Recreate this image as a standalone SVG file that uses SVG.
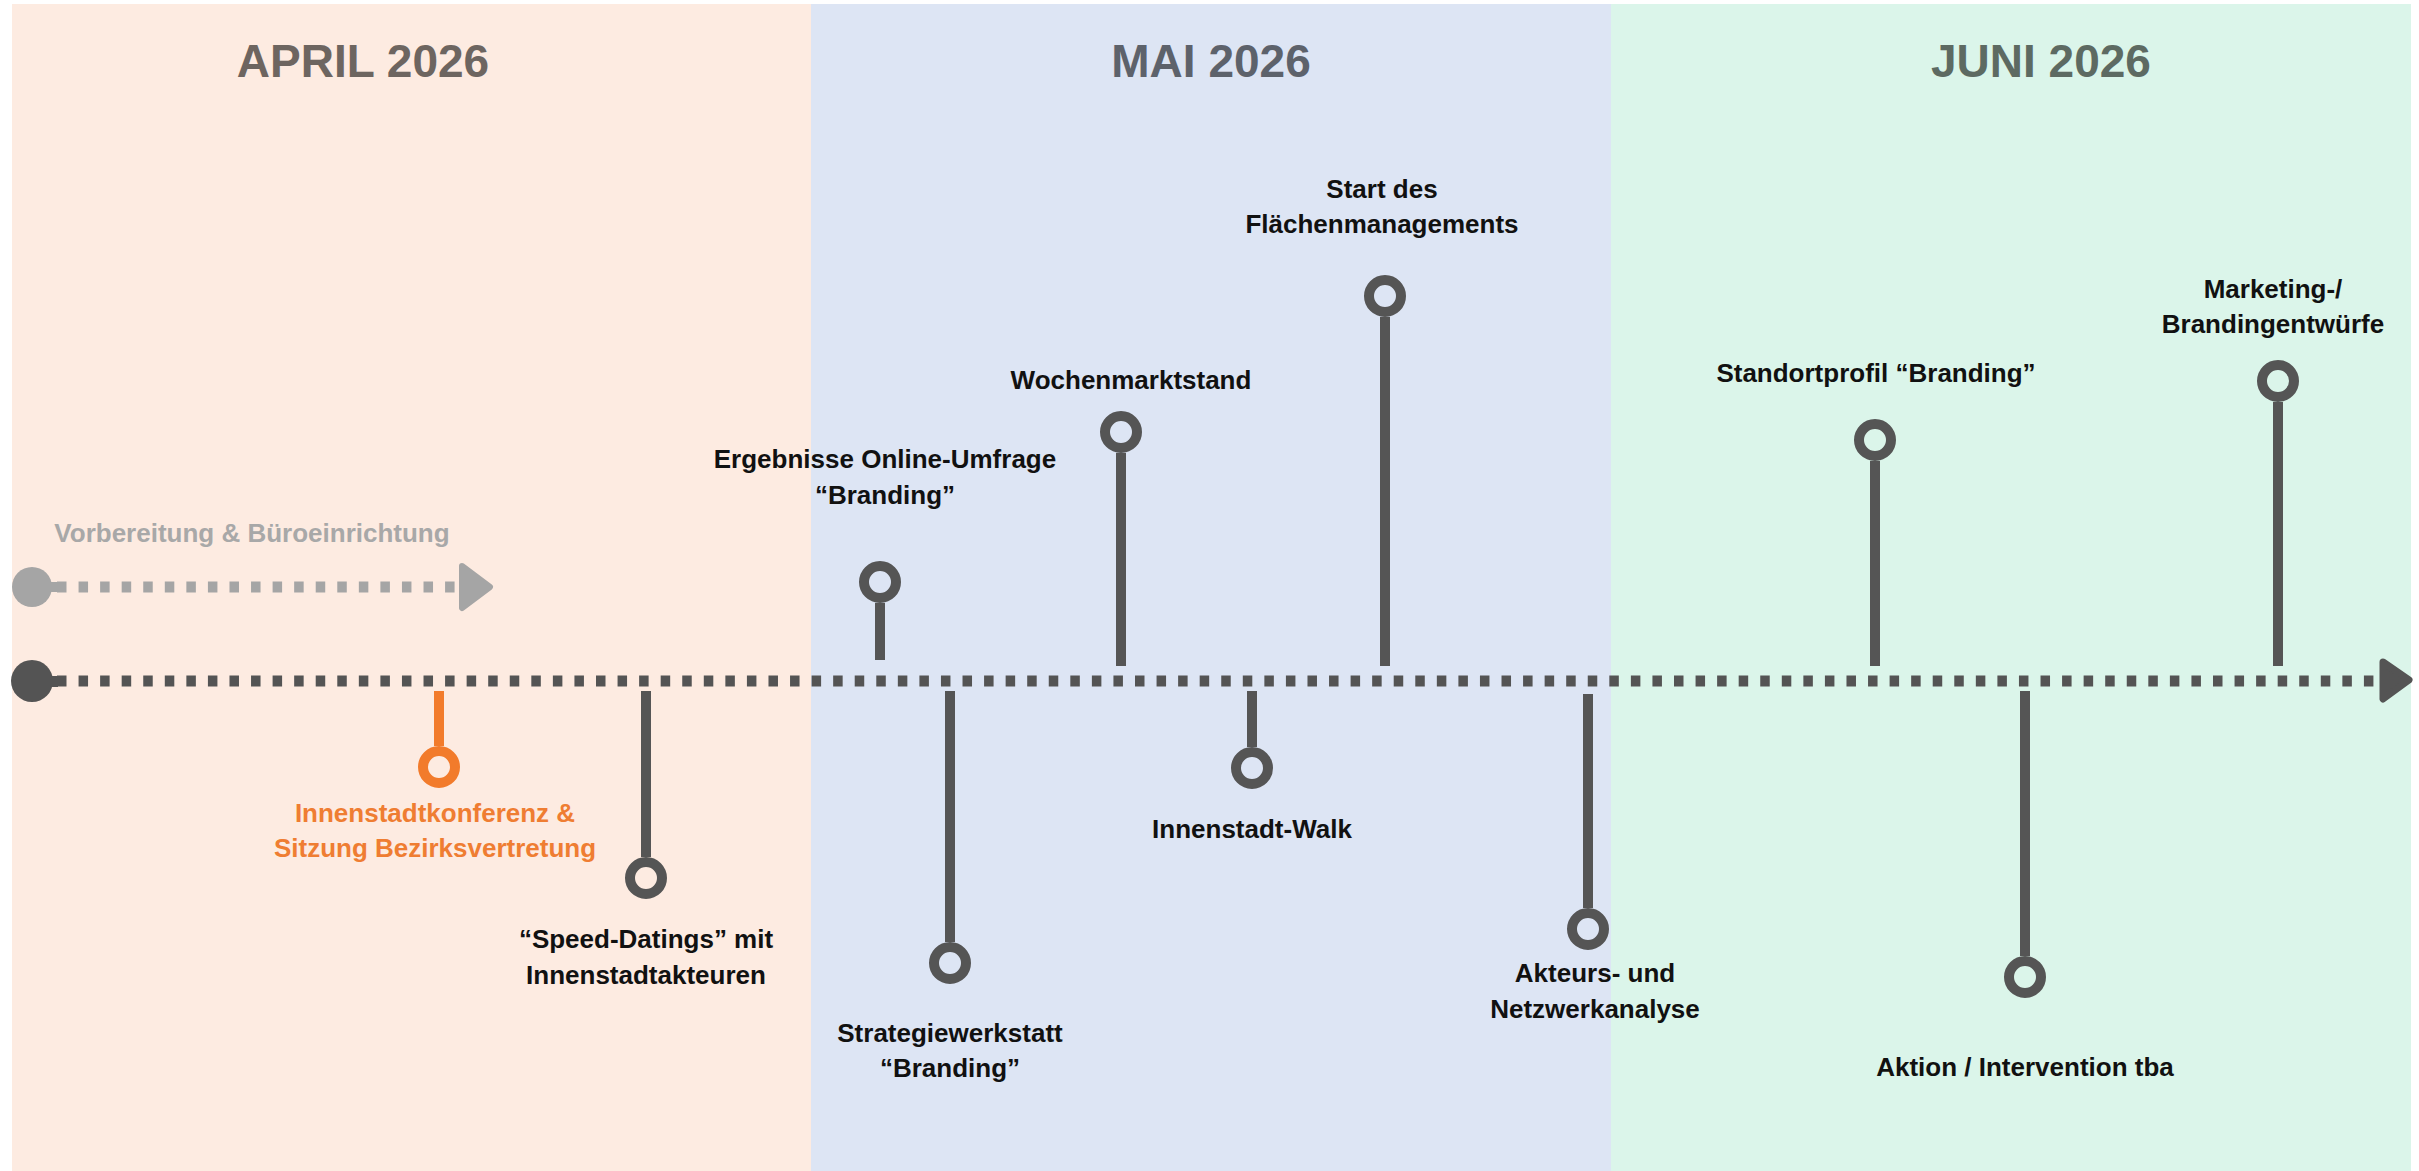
<svg xmlns="http://www.w3.org/2000/svg" width="2419" height="1171" viewBox="0 0 2419 1171">
<style>
.t{font-family:"Liberation Sans",Arial,sans-serif;font-weight:700;font-size:26px;text-anchor:middle;fill:#111111}
.title{font-family:"Liberation Sans",Arial,sans-serif;font-weight:700;font-size:46px;text-anchor:middle}
.stem{stroke:#555555;stroke-width:10;fill:none}
.ring{stroke:#555555;stroke-width:10;fill:none}
.stemO{stroke:#F27B2B;stroke-width:10;fill:none}
.ringO{stroke:#F27B2B;stroke-width:10;fill:none}
.axis{stroke:#545454;stroke-width:11;stroke-dasharray:9.5 12.06;fill:none}
.axisG{stroke:#A5A5A5;stroke-width:11;stroke-dasharray:9.5 12.06;fill:none}
</style>
<rect width="2419" height="1171" fill="#ffffff"/>
<g id="panels">
<rect x="12" y="4" width="799" height="1167" fill="#FDEBE1"/>
<rect x="811" y="4" width="800" height="1167" fill="#DDE5F4"/>
<rect x="1611" y="4" width="800" height="1167" fill="#DBF5EA"/>
<text class="title" x="363" y="77" fill="#6D6560">APRIL 2026</text>
<text class="title" x="1211" y="77" fill="#5D626B">MAI 2026</text>
<text class="title" x="2041" y="77" fill="#5D6A62">JUNI 2026</text>
</g>
<g id="connectors">
<circle cx="32" cy="587" r="20" fill="#A5A5A5"/>
<rect x="40" y="582" width="18" height="10" fill="#A5A5A5"/>
<path class="axisG" d="M57,587 H455"/>
<polygon points="462,566 490,587 462,608" fill="#A5A5A5" stroke="#A5A5A5" stroke-width="6" stroke-linejoin="round"/>
<circle cx="32" cy="681" r="21" fill="#545454"/>
<rect x="40" y="676" width="18" height="11" fill="#545454"/>
<path class="axis" d="M57,681 H2376"/>
<polygon points="2383,662 2409,680 2383,699" fill="#545454" stroke="#545454" stroke-width="7" stroke-linejoin="round"/>
</g>
<g id="n-vorbereitung">
<text class="t" x="252" y="542" fill="#A8A8A8" style="fill:#A8A8A8">Vorbereitung &amp; Büroeinrichtung</text>
</g>
<g id="n-innenstadtkonferenz">
<line class="stemO" x1="439" y1="691" x2="439" y2="746"/>
<circle class="ringO" cx="439" cy="767" r="16"/>
<text class="t" x="435" y="822" style="fill:#EF7D32">Innenstadtkonferenz &amp;</text>
<text class="t" x="435" y="857" style="fill:#EF7D32">Sitzung Bezirksvertretung</text>
</g>
<g id="n-speeddatings">
<line class="stem" x1="646" y1="691" x2="646" y2="857"/>
<circle class="ring" cx="646" cy="878" r="16"/>
<text class="t" x="646" y="948">“Speed-Datings” mit</text>
<text class="t" x="646" y="984">Innenstadtakteuren</text>
</g>
<g id="n-ergebnisse">
<line class="stem" x1="880" y1="603" x2="880" y2="660"/>
<circle class="ring" cx="880" cy="582" r="16"/>
<text class="t" x="885" y="468">Ergebnisse Online-Umfrage</text>
<text class="t" x="885" y="504">“Branding”</text>
</g>
<g id="n-strategiewerkstatt">
<line class="stem" x1="950" y1="691" x2="950" y2="942"/>
<circle class="ring" cx="950" cy="963" r="16"/>
<text class="t" x="950" y="1042">Strategiewerkstatt</text>
<text class="t" x="950" y="1077">“Branding”</text>
</g>
<g id="n-wochenmarktstand">
<line class="stem" x1="1121" y1="453" x2="1121" y2="666"/>
<circle class="ring" cx="1121" cy="432" r="16"/>
<text class="t" x="1131" y="389">Wochenmarktstand</text>
</g>
<g id="n-innenstadtwalk">
<line class="stem" x1="1252" y1="691" x2="1252" y2="747"/>
<circle class="ring" cx="1252" cy="768" r="16"/>
<text class="t" x="1252" y="838">Innenstadt-Walk</text>
</g>
<g id="n-flaechenmanagement">
<line class="stem" x1="1385" y1="317" x2="1385" y2="666"/>
<circle class="ring" cx="1385" cy="296" r="16"/>
<text class="t" x="1382" y="198">Start des</text>
<text class="t" x="1382" y="233">Flächenmanagements</text>
</g>
<g id="n-akteursanalyse">
<line class="stem" x1="1588" y1="694" x2="1588" y2="908"/>
<circle class="ring" cx="1588" cy="929" r="16"/>
<text class="t" x="1595" y="982">Akteurs- und</text>
<text class="t" x="1595" y="1018">Netzwerkanalyse</text>
</g>
<g id="n-standortprofil">
<line class="stem" x1="1875" y1="461" x2="1875" y2="666"/>
<circle class="ring" cx="1875" cy="440" r="16"/>
<text class="t" x="1876" y="382">Standortprofil “Branding”</text>
</g>
<g id="n-aktion">
<line class="stem" x1="2025" y1="691" x2="2025" y2="956"/>
<circle class="ring" cx="2025" cy="977" r="16"/>
<text class="t" x="2025" y="1076">Aktion / Intervention tba</text>
</g>
<g id="n-marketing">
<line class="stem" x1="2278" y1="402" x2="2278" y2="666"/>
<circle class="ring" cx="2278" cy="381" r="16"/>
<text class="t" x="2273" y="298">Marketing-/</text>
<text class="t" x="2273" y="333">Brandingentwürfe</text>
</g>
</svg>
